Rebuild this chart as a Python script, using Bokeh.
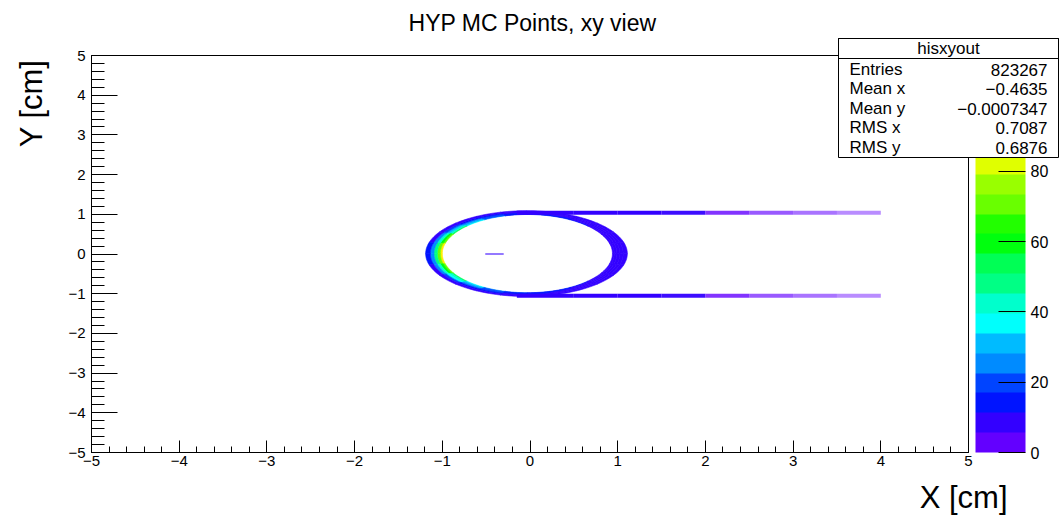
import colorsys
import numpy as np
from bokeh.plotting import figure
from bokeh.models import (Range1d, FixedTicker, ColorBar, LinearColorMapper, Label,
                          BoxAnnotation, ColumnDataSource)
from bokeh.embed import file_html
from bokeh.resources import INLINE

# ---------------- texts ----------------
title_text = "HYP MC Points, xy view"
x_title = "X [cm]"
y_title = "Y [cm]"
stats_name = "hisxyout"
stats_keys = ["Entries", "Mean x", "Mean y", "RMS x", "RMS y"]
stats_vals = ["823267", "\u22120.4635", "\u22120.0007347", "0.7087", "0.6876"]

# ---------------- axes ----------------
axis_ticks = [-5, -4, -3, -2, -1, 0, 1, 2, 3, 4, 5]
z_ticks = [0, 20, 40, 60, 80]
z_max = 113.0
n_levels = 20
n_levels_visible = 15   # upper part of the palette is hidden behind the stats box

# ---------------- histogram content ----------------
# ring: inner / outer ellipse (cx, cy, a, b) in cm
ring_inner = (-0.03, 0.01, 0.97, 0.985)
ring_outer = (-0.04, 0.01, 1.15, 1.08)
ring_angle_edges = [0, 15, 30, 45, 60, 75, 90, 105, 120, 135, 150, 165, 180,
                    195, 210, 225, 240, 255, 270, 285, 300, 315, 330, 345, 360]
ring_layer_edges = [0.0, 0.12, 0.3, 0.5, 0.72, 1.0]
# counts per angular sector, innermost layer first
ring_counts_l0 = [11, 11, 11, 12, 12, 13, 16, 24, 36, 52, 70, 88, 90, 72, 54, 37, 25, 17, 13, 12, 12, 11, 11, 11]
ring_counts_l1 = [11, 11, 11, 11, 12, 13, 15, 21, 31, 44, 58, 68, 70, 60, 45, 32, 22, 15, 13, 12, 11, 11, 11, 11]
ring_counts_l2 = [10, 10, 10, 10, 11, 12, 13, 17, 24, 33, 42, 48, 49, 43, 34, 25, 18, 13, 12, 11, 10, 10, 10, 10]
ring_counts_l3 = [9, 9, 9, 9, 9, 10, 11, 13, 16, 20, 24, 27, 27, 24, 20, 16, 13, 11, 10, 9, 9, 9, 9, 9]
ring_counts_l4 = [6, 6, 6, 6, 6, 7, 7, 8, 9, 10, 11, 12, 12, 11, 10, 9, 8, 7, 7, 6, 6, 6, 6, 6]

# horizontal bands
band_x_edges = [-0.15, 0.5, 1.0, 1.5, 2.0, 2.5, 3.0, 3.5, 4.0]
band_top_y = (0.99, 1.09)
band_bot_y = (-1.10, -1.00)
band_top_counts = [8, 7, 6, 6, 4, 3, 2, 1]
band_bot_counts = [8, 7, 6, 6, 4, 3, 2, 1]
band_occupancy = [1.0, 1.0, 1.0, 0.95, 0.8, 0.65, 0.55, 0.45]

# short trace near centre
dash_x = (-0.51, -0.30)
dash_y = (-0.02, 0.02)
dash_count = 6
dash_occupancy = 0.7

# ---------------- palette (ROOT pretty palette, 20 contours) ----------------
palette = []
for j in range(n_levels):
    idx = int((j + 0.99) * 50 / n_levels)
    hue = max(280.0 - (idx + 1) * 5.6, 0.0)
    r, g, b = colorsys.hls_to_rgb(hue / 360.0, 0.5, 1.0)
    palette.append("#%02x%02x%02x" % (int(round(r * 255)), int(round(g * 255)), int(round(b * 255))))
mapper = LinearColorMapper(palette=palette, low=0, high=z_max)
bar_mapper = LinearColorMapper(palette=palette[:n_levels_visible], low=0,
                               high=z_max * n_levels_visible / n_levels)

FONT = "Liberation Sans"

# ---------------- geometry of the page (pixels) ----------------
W, H = 1062, 516
FX0, FX1, FY0, FY1 = 91, 968, 55, 452      # histogram frame


def dx(px):
    return -5 + (px - FX0) * 10.0 / (FX1 - FX0)


def dy(py):
    return 5 - (py - FY0) * 10.0 / (FY1 - FY0)


# the drawing area covers the whole page (ROOT pad); axes sit on the histogram frame
p = figure(width=W, height=H, x_range=Range1d(dx(0), dx(W)), y_range=Range1d(dy(H), dy(0)),
           output_backend="svg", toolbar_location=None, title=None,
           min_border_left=0, min_border_right=0, min_border_top=0, min_border_bottom=0)
p.grid.visible = False
p.outline_line_color = None
p.background_fill_color = "white"
p.border_fill_color = "white"

minor = [round(v, 2) for v in np.arange(-5, 5.001, 0.2)]
overrides = {t: str(t).replace("-", "\u2212") for t in axis_ticks}
for ax in (p.xaxis[0], p.yaxis[0]):
    ax.fixed_location = -5
    ax.bounds = (-5, 5)
    ax.ticker = FixedTicker(ticks=axis_ticks, minor_ticks=minor)
    ax.major_label_overrides = overrides
    ax.major_tick_out = 0
    ax.minor_tick_out = 0
    ax.axis_line_color = "black"
    ax.major_tick_line_color = "black"
    ax.minor_tick_line_color = "black"
    ax.major_label_text_font = FONT
    ax.major_label_text_font_size = "15px"
    ax.major_label_text_color = "black"
p.xaxis.major_tick_in = 12
p.xaxis.minor_tick_in = 6
p.xaxis.major_label_standoff = 3
p.yaxis.major_tick_in = 26
p.yaxis.minor_tick_in = 13
p.yaxis.major_label_standoff = 6

# histogram frame
p.add_layout(BoxAnnotation(left=-5, right=5, bottom=-5, top=5, fill_alpha=0.0,
                           line_color="black", line_width=1, line_alpha=1.0))

# ---------------- ring cells ----------------
ring_layers = [ring_counts_l0, ring_counts_l1, ring_counts_l2, ring_counts_l3, ring_counts_l4]


def ring_xy(theta, f):
    xi = ring_inner[0] + ring_inner[2] * np.cos(theta)
    yi = ring_inner[1] + ring_inner[3] * np.sin(theta)
    xo = ring_outer[0] + ring_outer[2] * np.cos(theta)
    yo = ring_outer[1] + ring_outer[3] * np.sin(theta)
    return xi + (xo - xi) * f, yi + (yo - yi) * f


rx, ry, rc = [], [], []
for li, counts in enumerate(ring_layers):
    f0, f1 = ring_layer_edges[li], ring_layer_edges[li + 1]
    for si, c in enumerate(counts):
        t = np.radians(np.linspace(ring_angle_edges[si], ring_angle_edges[si + 1], 8))
        x0, y0 = ring_xy(t, f0)
        x1, y1 = ring_xy(t[::-1], f1)
        rx.append(list(np.concatenate([x0, x1])))
        ry.append(list(np.concatenate([y0, y1])))
        rc.append(c)
ring_src = ColumnDataSource(dict(xs=rx, ys=ry, count=rc))
p.patches("xs", "ys", source=ring_src,
          fill_color={"field": "count", "transform": mapper},
          line_color={"field": "count", "transform": mapper}, line_width=0.6)

# ---------------- bands ----------------
bl, br, bb, bt, bc, ba = [], [], [], [], [], []
for (y0, y1), counts in ((band_top_y, band_top_counts), (band_bot_y, band_bot_counts)):
    for i, c in enumerate(counts):
        bl.append(band_x_edges[i]); br.append(band_x_edges[i + 1])
        bb.append(y0); bt.append(y1); bc.append(c); ba.append(band_occupancy[i])
bl.append(dash_x[0]); br.append(dash_x[1]); bb.append(dash_y[0]); bt.append(dash_y[1])
bc.append(dash_count); ba.append(dash_occupancy)
band_src = ColumnDataSource(dict(left=bl, right=br, bottom=bb, top=bt, count=bc, alpha=ba))
p.quad(left="left", right="right", bottom="bottom", top="top", source=band_src,
       fill_color={"field": "count", "transform": mapper}, fill_alpha="alpha",
       line_color=None)

# ---------------- colour bar ----------------
cb_h = int(round((FY1 - FY0) * n_levels_visible / n_levels))
cb = ColorBar(color_mapper=bar_mapper, ticker=FixedTicker(ticks=z_ticks), width=50, height=cb_h,
              location=(975, H - FY1), margin=0, padding=0,
              major_tick_in=27, major_tick_out=0, major_tick_line_color="black",
              minor_tick_line_color=None, bar_line_color=None, border_line_color=None,
              background_fill_alpha=0, label_standoff=5,
              major_label_text_font=FONT, major_label_text_font_size="16px",
              major_label_text_color="black")
p.add_layout(cb, "center")

# ---------------- stats box ----------------
box_l, box_r, box_t, box_sep, box_b = 838, 1058, 38, 58, 157
p.add_layout(BoxAnnotation(left=dx(box_l), right=dx(box_r), top=dy(box_t), bottom=dy(box_b),
                           fill_color="white", fill_alpha=1.0, line_color="black",
                           line_width=1, line_alpha=1.0, level="overlay"))
p.add_layout(BoxAnnotation(left=dx(box_l), right=dx(box_r), top=dy(box_t), bottom=dy(box_sep),
                           fill_alpha=0.0, line_color="black", line_width=1, line_alpha=1.0,
                           level="overlay"))
p.add_layout(Label(x=dx((box_l + box_r) / 2), y=dy(48), text=stats_name, text_align="center",
                   text_baseline="middle", text_font=FONT, text_font_size="17px",
                   text_color="black", level="overlay"))
row_y = [69, 88, 108, 127, 147]
for k, v, yy in zip(stats_keys, stats_vals, row_y):
    p.add_layout(Label(x=dx(849), y=dy(yy), text=k, text_align="left", text_baseline="middle",
                       text_font=FONT, text_font_size="17px", text_color="black", level="overlay"))
    p.add_layout(Label(x=dx(1047), y=dy(yy), text=v, text_align="right", text_baseline="middle",
                       text_font=FONT, text_font_size="17px", text_color="black", level="overlay"))

# ---------------- titles ----------------
p.add_layout(Label(x=dx(532), y=dy(22), text=title_text, text_align="center",
                   text_baseline="middle", text_font=FONT, text_font_size="23px",
                   text_color="black", level="overlay"))
p.add_layout(Label(x=dx(1007), y=dy(497), text=x_title, text_align="right",
                   text_baseline="alphabetic", text_font=FONT, text_font_size="31px",
                   text_color="black", level="overlay"))
p.add_layout(Label(x=dx(31), y=dy(59), text=y_title, text_align="right", angle=np.pi / 2,
                   text_baseline="alphabetic", text_font=FONT, text_font_size="31px",
                   text_color="black", level="overlay"))

open("out.html", "w").write(file_html(p, INLINE))
